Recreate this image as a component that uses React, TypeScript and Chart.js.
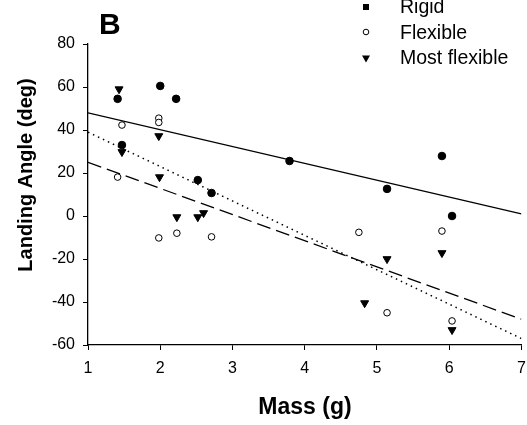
import React, { useEffect, useRef } from 'react';
import { Chart, registerables } from 'chart.js';

Chart.register(...registerables);

// ---- data ----
const rigidX = [1.41, 2.0, 2.22, 1.47, 2.52, 2.71, 3.79, 5.9, 5.14, 6.04];
const rigidY = [54.5, 60.5, 54.5, 33, 16.7, 10.7, 25.6, 27.9, 12.6, 0];
const flexX = [1.47, 1.98, 1.98, 1.41, 1.98, 2.23, 2.71, 4.75, 5.9, 5.14, 6.04];
const flexY = [42.3, 45.5, 43.5, 18.1, -10.2, -8, -9.7, -7.6, -7, -45, -48.8];
const mostX = [1.43, 1.47, 1.98, 1.99, 2.23, 2.52, 2.6, 5.14, 4.83, 5.9, 6.04];
const mostY = [59, 29.8, 37.2, 18.1, -0.5, -0.5, 1.4, -20, -40.5, -17.2, -53];
const fitX = [1, 7];
const rigidFit = [48, 1];
const flexFit = [39, -57];
const mostFit = [25, -48];
const legendLabels = ['Rigid', 'Flexible', 'Most flexible'];
const xTitle = 'Mass (g)';
const yTitle = 'Landing Angle (deg)';
const panelLabel = 'B';

const FONT = '"Liberation Sans", Arial, sans-serif';

const toPts = (xs: number[], ys: number[]) => xs.map((x, i) => ({ x, y: ys[i] }));

const textPlugin = {
  id: 'textPlugin',
  afterDraw(chart: any) {
    const ctx = chart.ctx as CanvasRenderingContext2D;
    ctx.save();
    ctx.fillStyle = '#000';
    ctx.strokeStyle = '#000';
    ctx.textBaseline = 'alphabetic';
    // panel label
    ctx.font = `bold 30px ${FONT}`;
    ctx.textAlign = 'left';
    ctx.fillText(panelLabel, 99, 34);
    // legend
    ctx.font = `19.5px ${FONT}`;
    const ly = [7, 32, 58.5];
    const lb = [13, 38.5, 64];
    legendLabels.forEach((lab, i) => {
      ctx.fillText(lab, 400, lb[i]);
    });
    const mx = 366;
    ctx.fillRect(mx - 3, ly[0] - 3, 6, 6);
    ctx.lineWidth = 1;
    ctx.beginPath();
    ctx.arc(mx, ly[1], 2.8, 0, Math.PI * 2);
    ctx.stroke();
    ctx.beginPath();
    ctx.moveTo(mx - 4, ly[2] - 3);
    ctx.lineTo(mx + 4, ly[2] - 3);
    ctx.lineTo(mx, ly[2] + 4);
    ctx.closePath();
    ctx.fill();
    // axis titles
    ctx.font = `bold 23px ${FONT}`;
    ctx.textAlign = 'center';
    ctx.fillText(xTitle, 305, 414);
    ctx.font = `bold 20px ${FONT}`;
    ctx.save();
    ctx.translate(32, 175);
    ctx.rotate(-Math.PI / 2);
    ctx.fillText(yTitle, 0, 0);
    ctx.restore();
    ctx.restore();
  },
};

export default function App() {
  const ref = useRef<HTMLCanvasElement | null>(null);
  useEffect(() => {
    if (!ref.current) return;
    const chart = new Chart(ref.current, {
      type: 'scatter',
      data: {
        datasets: [
          {
            label: 'Rigid fit',
            data: toPts(fitX, rigidFit),
            showLine: true,
            borderColor: '#000',
            borderWidth: 1.3,
            pointRadius: 0,
          },
          {
            label: 'Flexible fit',
            data: toPts(fitX, flexFit),
            showLine: true,
            borderColor: '#000',
            borderWidth: 1.5,
            borderDash: [1.5, 4],
            pointRadius: 0,
          },
          {
            label: 'Most flexible fit',
            data: toPts(fitX, mostFit),
            showLine: true,
            borderColor: '#000',
            borderWidth: 1.3,
            borderDash: [14, 6],
            pointRadius: 0,
          },
          {
            label: legendLabels[0],
            data: toPts(rigidX, rigidY),
            pointStyle: 'circle',
            pointRadius: 3.8,
            backgroundColor: '#000',
            borderColor: '#000',
            borderWidth: 1,
          },
          {
            label: legendLabels[1],
            data: toPts(flexX, flexY),
            pointStyle: 'circle',
            pointRadius: 3.3,
            backgroundColor: '#fff',
            borderColor: '#000',
            borderWidth: 1,
          },
          {
            label: legendLabels[2],
            data: toPts(mostX, mostY),
            pointStyle: 'triangle',
            rotation: 180,
            pointRadius: 4.6,
            backgroundColor: '#000',
            borderColor: '#000',
            borderWidth: 1,
          },
        ],
      },
      options: {
        animation: false,
        responsive: false,
        maintainAspectRatio: false,
        layout: { padding: { top: 44, left: 0, right: 5, bottom: 0 } },
        plugins: {
          legend: { display: false },
          tooltip: { enabled: false },
          title: { display: false },
        },
        scales: {
          x: {
            type: 'linear',
            min: 1,
            max: 7,
            ticks: {
              stepSize: 1,
              color: '#000',
              font: { family: FONT, size: 16 },
              padding: 9,
              maxRotation: 0,
            },
            grid: { drawOnChartArea: false, drawTicks: true, tickLength: 5, color: '#000' },
            border: { color: '#000', width: 1.3 },
            afterFit: (s: any) => {
              s.height = 80;
              s.paddingLeft = 0;
              s.paddingRight = 0;
              s.paddingTop = 0;
              s.paddingBottom = 0;
            },
          },
          y: {
            type: 'linear',
            min: -60,
            max: 80,
            ticks: {
              stepSize: 20,
              color: '#000',
              font: { family: FONT, size: 16 },
              padding: 8,
            },
            grid: { drawOnChartArea: false, drawTicks: true, tickLength: 5, color: '#000' },
            border: { color: '#000', width: 1.3 },
            afterFit: (s: any) => {
              s.width = 88;
              s.paddingLeft = 0;
              s.paddingRight = 0;
              s.paddingTop = 0;
              s.paddingBottom = 0;
            },
          },
        },
      },
      plugins: [textPlugin],
    });
    return () => chart.destroy();
  }, []);
  return (
    <div style={{ position: 'absolute', left: 0, top: 0, width: 527, height: 425, background: '#fff' }}>
      <canvas ref={ref} width={527} height={425} />
    </div>
  );
}
